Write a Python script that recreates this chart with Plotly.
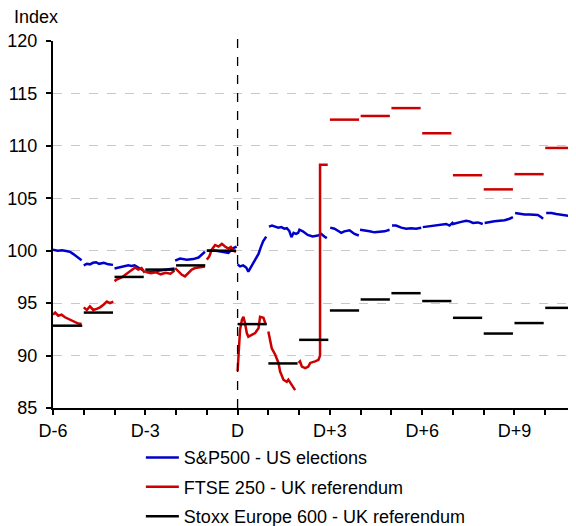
import plotly.graph_objects as go

# ---------------- data (x in trading days relative to the event day D) -------------
sp500_x = [
    -6.0, -5.85, -5.7, -5.55, -5.45, -5.35, -5.25, -5.15, -5.07, None,
    -5.0, -4.9, -4.8, -4.7, -4.6, -4.5, -4.35, -4.2, -4.05, None,
    -4.0, -3.85, -3.7, -3.55, -3.45, -3.35, -3.2, -3.05, None,
    -3.0, -2.8, -2.6, -2.4, -2.2, -2.05, None,
    -2.03, -1.87, -1.65, -1.44, -1.27, -1.16, -1.06, None,
    -1.0, -0.8, -0.6, -0.4, -0.3, -0.14, -0.03, None,
    0.0, 0.08, 0.18, 0.28, 0.35, 0.42, 0.5, 0.6, 0.68, 0.75, 0.83, 0.93, None,
    1.02, 1.12, 1.22, 1.32, 1.42, 1.52, 1.6, 1.68, 1.75, 1.82, 1.9, 1.97,
    2.01, 2.12, 2.28, 2.44, 2.61, 2.72, 2.82, 2.9, None,
    3.01, 3.15, 3.26, 3.37, 3.47, 3.64, 3.8, 3.94, None,
    3.98, 4.12, 4.29, 4.45, 4.61, 4.78, 4.94, None,
    5.02, 5.15, 5.32, 5.48, 5.64, 5.8, 5.97, None,
    6.02, 6.18, 6.35, 6.51, 6.67, 6.78, 6.89, 6.98,
    7.0, 7.11, 7.27, 7.43, 7.54, 7.65, 7.81, 7.97, None,
    8.03, 8.19, 8.35, 8.51, 8.68, 8.84, 8.95, None,
    9.02, 9.17, 9.33, 9.49, 9.65, 9.76, 9.87, 9.93, None,
    10.03, 10.2, 10.36, 10.52, 10.68, 10.85, 10.95,
]
sp500_y = [
    100.1, 100.0, 100.05, 99.95, 99.9, 99.7, 99.5, 99.3, 99.1, None,
    98.6, 98.75, 98.7, 98.85, 98.9, 98.75, 98.85, 98.7, 98.65, None,
    98.3, 98.4, 98.5, 98.6, 98.55, 98.6, 98.35, 98.1, None,
    98.0, 97.95, 98.1, 98.15, 98.2, 98.3, None,
    99.05, 99.25, 99.15, 99.2, 99.35, 99.6, 99.9, None,
    100.0, 100.05, 99.95, 99.85, 99.8, 100.25, 100.4, None,
    98.7, 98.5, 98.6, 98.4, 98.0, 98.35, 98.8, 99.2, 99.7, 100.3, 100.9, 101.35, None,
    102.3, 102.4, 102.3, 102.2, 102.25, 102.1, 102.15, 101.9, 101.3, 101.7, 101.6, 101.7,
    102.0, 101.85, 101.5, 101.35, 101.45, 101.6, 101.35, 101.2, None,
    102.2, 102.1, 101.9, 101.7, 101.85, 101.95, 101.6, 101.45, None,
    102.0, 101.95, 101.85, 101.75, 101.8, 101.85, 102.0, None,
    102.4, 102.4, 102.2, 102.1, 102.15, 102.1, 102.2, None,
    102.25, 102.3, 102.4, 102.4, 102.5, 102.55, 102.4, 102.65,
    102.55, 102.65, 102.75, 102.85, 102.8, 102.65, 102.7, 102.55, None,
    102.65, 102.75, 102.8, 102.85, 102.9, 103.05, 103.2, None,
    103.6, 103.5, 103.45, 103.45, 103.4, 103.4, 103.2, 103.05, None,
    103.6, 103.6, 103.5, 103.45, 103.4, 103.3, 103.35,
]

ftse_x = [
    -6.0, -5.93, -5.83, -5.72, -5.61, -5.5, -5.39, -5.28, -5.18, -5.07, None,
    -5.0, -4.9, -4.8, -4.69, -4.58, -4.47, -4.36, -4.25, -4.15, -4.04, None,
    -4.0, -3.93, -3.77, -3.66, -3.55, -3.44, -3.33, -3.23, -3.12, -3.02, None,
    -2.98, -2.82, -2.66, -2.5, -2.34, -2.18, -2.05, None,
    -2.03, -1.92, -1.81, -1.71, -1.6, -1.49, -1.38, -1.22, -1.06, None,
    -1.0, -0.92, -0.84, -0.73, -0.62, -0.51, -0.41, -0.3, -0.22, -0.14, -0.05, None,
    0.0, 0.03, 0.08, 0.14, 0.19, 0.24, 0.3, 0.35, 0.46, 0.57, 0.68, 0.73, 0.84, 0.9, None,
    1.0, 1.06, 1.11, 1.22, 1.33, 1.38, 1.49, 1.6, 1.65, 1.76, 1.87, None,
    1.98, 2.03, 2.09, 2.2, 2.3, 2.36, 2.52, 2.63, 2.68, 2.68, 2.93,
]
ftse_y = [
    93.9, 94.1, 93.8, 93.9, 93.65, 93.5, 93.3, 93.2, 93.05, 93.0, None,
    94.6, 94.35, 94.7, 94.35, 94.45, 94.6, 94.85, 95.15, 95.0, 95.15, None,
    97.1, 97.25, 97.45, 97.7, 97.95, 98.2, 98.4, 98.2, 98.35, 97.9, None,
    98.0, 97.85, 97.95, 97.75, 97.9, 97.8, 98.1, None,
    98.35, 98.0, 97.7, 97.55, 97.85, 98.2, 98.35, 98.4, 98.5, None,
    99.15, 99.45, 100.1, 100.55, 100.4, 100.65, 100.4, 100.2, 100.35, 100.0, 99.9, None,
    88.5, 90.55, 92.45, 93.4, 93.7, 93.1, 92.15, 91.8, 92.0, 92.15, 92.6, 93.7, 93.6, 93.1, None,
    92.3, 91.5, 90.7, 90.1, 89.3, 88.5, 87.7, 87.5, 87.7, 87.2, 86.7, None,
    89.3, 89.45, 88.95, 88.8, 88.95, 89.3, 89.45, 89.6, 90.0, 108.2, 108.2,
]

# daily closes after D+3 for FTSE 250 (one bar per day)
ftse_step_days = [3, 4, 5, 6, 7, 8, 9, 10]
ftse_step_vals = [112.5, 112.85, 113.6, 111.2, 107.2, 105.85, 107.3, 109.8]

# Stoxx Europe 600 daily values
stoxx_days = [-6, -5, -4, -3, -2, -1, 0, 1, 2, 3, 4, 5, 6, 7, 8, 9, 10]
stoxx_vals = [92.85, 94.1, 97.5, 98.2, 98.6, 100.0, 93.0, 89.25, 91.5,
              94.3, 95.35, 95.95, 95.2, 93.6, 92.1, 93.1, 94.55]

tick_vals = [-6, -3, 0, 3, 6, 9]
tick_text = ["D-6", "D-3", "D", "D+3", "D+6", "D+9"]

names = ["S&P500 - US elections", "FTSE 250 - UK referendum",
         "Stoxx Europe 600 - UK referendum"]

BLUE = "#0000CC"
RED = "#CC0000"
BLACK = "#000000"
STEP_LEN = 0.95


def steps(days, vals):
    xs, ys = [], []
    for d, v in zip(days, vals):
        xs += [d, d + STEP_LEN, None]
        ys += [v, v, None]
    return xs, ys


fx_s, fy_s = steps(ftse_step_days, ftse_step_vals)
sx, sy = steps(stoxx_days, stoxx_vals)

fig = go.Figure()
fig.add_trace(go.Scatter(x=sp500_x, y=sp500_y, mode="lines", name=names[0],
                         line=dict(color=BLUE, width=2.5), legendgroup="a",
                         connectgaps=False))
fig.add_trace(go.Scatter(x=ftse_x + [None] + fx_s, y=ftse_y + [None] + fy_s,
                         mode="lines", name=names[1],
                         line=dict(color=RED, width=2.5), legendgroup="b",
                         connectgaps=False))
fig.add_trace(go.Scatter(x=sx, y=sy, mode="lines", name=names[2],
                         line=dict(color=BLACK, width=2.5), legendgroup="c",
                         connectgaps=False))

fig.add_shape(type="line", xref="x", yref="paper", x0=0, x1=0, y0=0, y1=1.015,
              line=dict(color=BLACK, width=1.3, dash="dash"))

FONT = "Liberation Sans, Arial, sans-serif"

# the page body adds an 8px margin, so the figure is 8px smaller than the window
fig.update_layout(
    width=568, height=518,
    margin=dict(l=45, r=0, t=33, b=118, autoexpand=False),
    paper_bgcolor="white", plot_bgcolor="white",
    font=dict(family=FONT, size=18, color="black"),
    showlegend=True,
    legend=dict(x=0.168, y=-0.085, xanchor="left", yanchor="top",
                orientation="v", tracegroupgap=3, bgcolor="rgba(0,0,0,0)",
                itemwidth=33, font=dict(size=18)),
    xaxis=dict(range=[-6, 11], tickvals=tick_vals, ticktext=tick_text,
               showline=True, linecolor=BLACK, linewidth=2,
               ticks="outside", ticklen=5, tickwidth=1.5, tickcolor=BLACK,
               minor=dict(dtick=1, tick0=0, ticks="outside", ticklen=5,
                          tickwidth=1.5, tickcolor=BLACK, showgrid=False),
               showgrid=False, zeroline=False, automargin=False),
    yaxis=dict(range=[85, 120], dtick=5, tick0=85,
               showline=True, linecolor=BLACK, linewidth=2,
               ticks="outside", ticklen=5, tickwidth=1.5, tickcolor=BLACK,
               showgrid=True, gridcolor="#C8C8C8", griddash="dash", gridwidth=1,
               zeroline=False, ticklabelstandoff=5, automargin=False),
    annotations=[dict(text="Index", xref="paper", yref="paper",
                      x=-0.078, y=1.066, xanchor="left", yanchor="middle",
                      showarrow=False, font=dict(size=18))],
)

fig.write_html("out.html")
